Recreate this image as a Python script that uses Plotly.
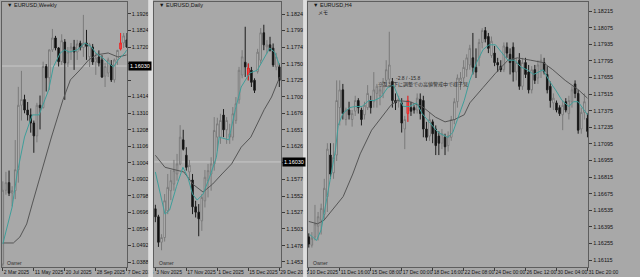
import plotly.graph_objects as go

# ---------------- data ----------------
w_labels_pos = [0, 10, 20, 30, 40]
w_labels = ["2 Mar 2025", "11 May 2025", "20 Jul 2025", "28 Sep 2025", "7 Dec 2025"]
w_open = [1.0375,1.0833,1.0880,1.0815,1.0830,1.0960,1.1360,1.1395,1.1330,1.1300,
          1.1250,1.1170,1.1360,1.1345,1.1600,1.1530,1.1703,1.1777,1.1715,1.1630,
          1.1752,1.1622,1.1690,1.1721,1.1690,1.1745,1.1718,1.1746,1.1660,1.1721,
          1.1628,1.1659,1.1641,1.1540,1.1560,1.1610,1.1517,1.1641,1.1709,1.1746,
          1.1765]
w_high = [1.0888,1.0947,1.0955,1.0858,1.1144,1.1474,1.1573,1.1425,1.1380,1.1340,
          1.1265,1.1375,1.1420,1.1630,1.1615,1.1705,1.1833,1.1790,1.1720,1.1800,
          1.1770,1.1721,1.1746,1.1765,1.1765,1.1760,1.1920,1.1827,1.1746,1.1740,
          1.1684,1.1700,1.1670,1.1622,1.1655,1.1640,1.1650,1.1703,1.1808,1.1808,
          1.1808]
w_low = [1.0360,1.0805,1.0797,1.0733,1.0778,1.0880,1.1265,1.1310,1.1265,1.1190,
         1.1065,1.1130,1.1210,1.1340,1.1445,1.1455,1.1690,1.1700,1.1600,1.1610,
         1.1393,1.1597,1.1641,1.1579,1.1641,1.1700,1.1660,1.1641,1.1597,1.1610,
         1.1548,1.1600,1.1529,1.1473,1.1535,1.1504,1.1500,1.1610,1.1700,1.1715,
         1.1715]
w_close = [1.0833,1.0880,1.0815,1.0830,1.0960,1.1360,1.1395,1.1330,1.1300,1.1250,
           1.1170,1.1360,1.1345,1.1600,1.1530,1.1703,1.1777,1.1715,1.1630,1.1760,
           1.1622,1.1690,1.1721,1.1690,1.1740,1.1718,1.1746,1.1725,1.1735,1.1628,
           1.1653,1.1622,1.1535,1.1600,1.1641,1.1517,1.1641,1.1700,1.1746,1.1790,
           1.1721]
w_fast_idx = [0, 3, 4.6, 7, 9.5, 11.7, 14.8, 16.3, 18.5, 20, 21.5, 24, 26.5, 28.6, 30, 32.3, 34, 35.7, 37.2, 39.4, 40]
w_fast_val = [1.0500, 1.0729, 1.0934, 1.1163, 1.1300, 1.1300, 1.1455, 1.1597, 1.1684, 1.1703, 1.1690, 1.1703,
              1.1746, 1.1721, 1.1684, 1.1653, 1.1622, 1.1597, 1.1641, 1.1684, 1.1703]
w_slow_idx = [0, 3.4, 5.5, 7.7, 9.5, 11.7, 13.8, 15.7, 19.4, 21.8, 24.9, 27.7, 30.2, 34, 37.2, 40]
w_slow_val = [1.0506, 1.0506, 1.0543, 1.0624, 1.0748, 1.0897, 1.1039, 1.1163, 1.1393, 1.1517, 1.1579, 1.1641,
              1.1672, 1.1684, 1.1659, 1.1672]
w_ticks = [1.19260, 1.18240, 1.17200, 1.16180, 1.15160, 1.14140, 1.13100, 1.12080,
           1.11060, 1.10040, 1.09020, 1.07980, 1.06960, 1.05940, 1.04920, 1.03880]
w_mark = [38]

d_labels_pos = [0, 10, 20, 30, 40]
d_labels = ["3 Nov 2025", "17 Nov 2025", "1 Dec 2025", "15 Dec 2025", "29 Dec 2025"]
d_open = [1.1533,1.1521,1.1483,1.1490,1.1530,1.1560,1.1570,1.1585,1.1600,1.1636,
          1.1613,1.1588,1.1576,1.1536,1.1528,1.1515,1.1545,1.1575,1.1585,1.1600,
          1.1640,1.1640,1.1673,1.1651,1.1640,1.1640,1.1665,1.1696,1.1733,1.1752,
          1.1743,1.1740,1.1725,1.1738,1.1755,1.1796,1.1775,1.1778,1.1773,1.1745,
          1.1745]
d_high = [1.1539,1.1524,1.1495,1.1555,1.1585,1.1591,1.1606,1.1615,1.1658,1.1651,
          1.1625,1.1606,1.1585,1.1545,1.1540,1.1555,1.1591,1.1600,1.1610,1.1670,
          1.1669,1.1675,1.1682,1.1670,1.1660,1.1685,1.1700,1.1745,1.1770,1.1805,
          1.1750,1.1745,1.1728,1.1772,1.1803,1.1808,1.1785,1.1790,1.1780,1.1766,
          1.1750]
d_low = [1.1513,1.1476,1.1471,1.1484,1.1525,1.1546,1.1560,1.1575,1.1598,1.1620,
         1.1590,1.1578,1.1525,1.1520,1.1492,1.1500,1.1535,1.1550,1.1560,1.1590,
         1.1620,1.1630,1.1640,1.1630,1.1630,1.1635,1.1660,1.1690,1.1728,1.1730,
         1.1725,1.1715,1.1706,1.1735,1.1750,1.1770,1.1765,1.1768,1.1745,1.1740,
         1.1715]
d_close = [1.1521,1.1483,1.1490,1.1545,1.1565,1.1575,1.1590,1.1600,1.1640,1.1622,
           1.1595,1.1598,1.1536,1.1528,1.1518,1.1550,1.1580,1.1590,1.1600,1.1650,
           1.1660,1.1665,1.1651,1.1665,1.1645,1.1675,1.1690,1.1740,1.1760,1.1745,
           1.1733,1.1722,1.1710,1.1767,1.1796,1.1778,1.1778,1.1770,1.1748,1.1760,
           1.1725]
d_fast_idx = [0, 3.1, 4.6, 6.8, 8.9, 10.5, 12, 13.5, 15.4, 17.5, 19.7, 20.6, 23.7, 25.8, 27.7, 30.5, 32.9, 35.1, 36.9, 38.5, 40]
d_fast_val = [1.1588, 1.1525, 1.1531, 1.1566, 1.1595, 1.1580, 1.1555, 1.1546, 1.1555, 1.1580, 1.1610, 1.1640,
              1.1636, 1.1681, 1.1715, 1.1736, 1.1740, 1.1758, 1.1773, 1.1767, 1.1748]
d_slow_idx = [0, 3.1, 9.2, 12.3, 15.4, 18.5, 21.5, 24.6, 27.7, 30.8, 35.1, 37.5, 39.7, 40]
d_slow_val = [1.1613, 1.1595, 1.1588, 1.1569, 1.1558, 1.1570, 1.1585, 1.1600, 1.1625, 1.1640, 1.1681, 1.1700,
              1.1725, 1.1730]
d_ticks = [1.18240, 1.17995, 1.17745, 1.17500, 1.17250, 1.17005, 1.16760, 1.16510,
           1.16265, 1.16020, 1.15770, 1.15520, 1.15275, 1.15030, 1.14780, 1.14535]
d_mark = [30]

h_labels_pos = [0, 10, 20, 30, 40, 50, 60, 70, 80, 90]
h_labels = ["10 Dec 2025", "11 Dec 16:00", "15 Dec 08:00", "17 Dec 00:00", "18 Dec 16:00",
            "22 Dec 08:00", "24 Dec 00:00", "26 Dec 12:00", "30 Dec 04:00", "31 Dec 20:00"]
h_open = [1.1631,1.1624,1.1631,1.1640,1.1645,1.1650,1.1665,1.1700,1.1685,1.1700,
          1.1740,1.1755,1.1730,1.1738,1.1730,1.1737,1.1746,1.1738,1.1734,1.1740,
          1.1746,1.1745,1.1752,1.1750,1.1752,1.1763,1.1764,1.1762,1.1746,1.1745,
          1.1744,1.1722,1.1735,1.1740,1.1740,1.1738,1.1747,1.1746,1.1722,1.1716,
          1.1728,1.1722,1.1716,1.1710,1.1715,1.1708,1.1715,1.1730,1.1745,1.1762,
          1.1765,1.1772,1.1776,1.1782,1.1774,1.1782,1.1795,1.1805,1.1800,1.1784,
          1.1786,1.1778,1.1775,1.1772,1.1791,1.1785,1.1791,1.1770,1.1780,1.1758,
          1.1778,1.1770,1.1755,1.1772,1.1765,1.1772,1.1778,1.1768,1.1758,1.1744,
          1.1744,1.1740,1.1734,1.1745,1.1735,1.1745,1.1760,1.1752,1.1722,1.1736,
          1.1731]
h_high = [1.1634,1.1635,1.1658,1.1652,1.1659,1.1680,1.1710,1.1710,1.1710,1.1763,
          1.1763,1.1760,1.1740,1.1745,1.1738,1.1750,1.1748,1.1740,1.1745,1.1759,
          1.1750,1.1770,1.1760,1.1758,1.1765,1.1780,1.1804,1.1765,1.1752,1.1750,
          1.1748,1.1733,1.1750,1.1745,1.1742,1.1752,1.1752,1.1750,1.1728,1.1736,
          1.1730,1.1725,1.1720,1.1722,1.1718,1.1720,1.1733,1.1748,1.1768,1.1770,
          1.1780,1.1785,1.1793,1.1803,1.1790,1.1798,1.1807,1.1808,1.1803,1.1800,
          1.1792,1.1782,1.1780,1.1795,1.1795,1.1790,1.1795,1.1782,1.1786,1.1782,
          1.1782,1.1776,1.1775,1.1776,1.1780,1.1785,1.1782,1.1775,1.1762,1.1752,
          1.1746,1.1742,1.1746,1.1748,1.1750,1.1758,1.1763,1.1755,1.1740,1.1752,
          1.1735]
h_low = [1.1622,1.1622,1.1628,1.1628,1.1633,1.1645,1.1652,1.1680,1.1680,1.1695,
         1.1725,1.1730,1.1725,1.1730,1.1724,1.1733,1.1735,1.1725,1.1730,1.1738,
         1.1735,1.1740,1.1740,1.1742,1.1748,1.1758,1.1760,1.1740,1.1738,1.1740,
         1.1719,1.1705,1.1728,1.1733,1.1735,1.1735,1.1730,1.1715,1.1712,1.1712,
         1.1710,1.1700,1.1700,1.1705,1.1700,1.1703,1.1712,1.1726,1.1740,1.1755,
         1.1760,1.1766,1.1772,1.1768,1.1765,1.1775,1.1790,1.1795,1.1786,1.1782,
         1.1775,1.1770,1.1770,1.1770,1.1782,1.1768,1.1762,1.1763,1.1755,1.1755,
         1.1765,1.1752,1.1752,1.1760,1.1760,1.1765,1.1768,1.1752,1.1740,1.1738,
         1.1736,1.1733,1.1721,1.1736,1.1730,1.1740,1.1748,1.1718,1.1718,1.1730,
         1.1715]
h_close = [1.1625,1.1630,1.1642,1.1648,1.1655,1.1672,1.1705,1.1684,1.1698,1.1746,
           1.1755,1.1735,1.1738,1.1734,1.1735,1.1746,1.1740,1.1730,1.1742,1.1752,
           1.1740,1.1755,1.1758,1.1755,1.1762,1.1772,1.1776,1.1746,1.1744,1.1747,
           1.1727,1.1730,1.1746,1.1737,1.1738,1.1748,1.1735,1.1722,1.1715,1.1730,
           1.1718,1.1708,1.1710,1.1718,1.1707,1.1716,1.1730,1.1745,1.1765,1.1765,
           1.1774,1.1782,1.1790,1.1774,1.1770,1.1795,1.1805,1.1798,1.1790,1.1796,
           1.1778,1.1776,1.1772,1.1792,1.1786,1.1778,1.1770,1.1778,1.1758,1.1778,
           1.1768,1.1755,1.1772,1.1763,1.1776,1.1780,1.1770,1.1755,1.1746,1.1748,
           1.1738,1.1735,1.1742,1.1738,1.1746,1.1755,1.1752,1.1721,1.1736,1.1745,
           1.1720]
h_fast_idx = [0.3, 2.5, 4, 5.5, 7, 8.6, 9.5, 11, 13.2, 15, 17.2, 19.4, 21.2, 23.4, 25.5, 27.4, 28.9, 30.5,
              32.6, 34.8, 36.6, 38.8, 41.8, 44.9, 46.5, 48, 50.2, 52, 54.2, 56.3, 58.2, 60.3, 62.5, 64.3,
              66.5, 68.6, 70.5, 72.6, 74.2, 75.7, 77.8, 79.7, 81.8, 84, 85.5, 87, 88.9, 90]
h_fast_val = [1.1633, 1.1628, 1.1637, 1.1659, 1.1681, 1.1704, 1.1725, 1.1735, 1.1740, 1.1741, 1.1741, 1.1746,
              1.1746, 1.1749, 1.1757, 1.1759, 1.1749, 1.1741, 1.1741, 1.1744, 1.1735, 1.1728, 1.1719, 1.1715,
              1.1719, 1.1730, 1.1746, 1.1763, 1.1778, 1.1789, 1.1793, 1.1793, 1.1786, 1.1780, 1.1780, 1.1774,
              1.1772, 1.1768, 1.1770, 1.1772, 1.1762, 1.1755, 1.1746, 1.1741, 1.1745, 1.1745, 1.1738, 1.1734]
h_slow_idx = [0, 2.8, 4.9, 7.1, 8.9, 11.1, 14.2, 16.6, 20.3, 23.4, 26.5, 28.6, 32.6, 36.6, 40.9, 44, 47.1,
              50.2, 52, 56.3, 60.3, 64.3, 67.4, 71.7, 75.7, 78.8, 82.8, 87.1, 90]
h_slow_val = [1.1644, 1.1642, 1.1645, 1.1652, 1.1658, 1.1665, 1.1684, 1.1701, 1.1721, 1.1732, 1.1742, 1.1746,
              1.1745, 1.1741, 1.1732, 1.1728, 1.1730, 1.1734, 1.1744, 1.1757, 1.1769, 1.1780, 1.1782, 1.1780,
              1.1778, 1.1772, 1.1763, 1.1755, 1.1748]
h_ticks = [1.18215, 1.18075, 1.17935, 1.17795, 1.17655, 1.17515, 1.17375, 1.17235,
           1.17095, 1.16955, 1.16815, 1.16675, 1.16535, 1.16395, 1.16255, 1.16115]
h_mark = [32]

ref_level = 1.16030
titles = ["▼ EURUSD,Weekly", "▼ EURUSD,Daily", "▼ EURUSD,H4"]
memo_text = "メモ"
note_line1 = "-2.8 / -15.8"
note_line2 = "※乱高下に調整での高値警戒中で様子見"
note_pos = [(32, 1.17650), (37, 1.17595)]
owner_text = "Owner"

# ---------------- style / layout ----------------
W, H = 640, 277
BG = "#a8a8a8"
FONT = "Liberation Sans, Noto Sans CJK JP, DejaVu Sans"
TXT = "#141414"

panels = [
    dict(o=w_open, h=w_high, l=w_low, c=w_close, fi=w_fast_idx, fv=w_fast_val, si=w_slow_idx, sv=w_slow_val,
         ticks=w_ticks, lpos=w_labels_pos, lab=w_labels, mark=w_mark,
         px=(2, 133), xr=(-0.3, 40.0), yr=(1.0357, 1.2000), ref=True),
    dict(o=d_open, h=d_high, l=d_low, c=d_close, fi=d_fast_idx, fv=d_fast_val, si=d_slow_idx, sv=d_slow_val,
         ticks=d_ticks, lpos=d_labels_pos, lab=d_labels, mark=d_mark,
         px=(162, 295), xr=(-0.3, 40.6), yr=(1.1446, 1.1842), ref=True),
    dict(o=h_open, h=h_high, l=h_low, c=h_close, fi=h_fast_idx, fv=h_fast_val, si=h_slow_idx, sv=h_slow_val,
         ticks=h_ticks, lpos=h_labels_pos, lab=h_labels, mark=h_mark,
         px=(323, 617), xr=(-0.3, 90.2), yr=(1.16056, 1.18291), ref=False),
]

fig = go.Figure()
ydom = [(H - 267) / H, (H - 2) / H]

for n, p in enumerate(panels, start=1):
    xa = "x" if n == 1 else f"x{n}"
    ya = "y" if n == 1 else f"y{n}"
    idx = list(range(len(p["o"])))
    fig.add_trace(go.Candlestick(
        x=idx, open=p["o"], high=p["h"], low=p["l"], close=p["c"], xaxis=xa, yaxis=ya,
        increasing=dict(line=dict(color="#7a7a7a", width=1), fillcolor="#d0d0d0"),
        decreasing=dict(line=dict(color="#1c1c1c", width=1), fillcolor="#0a0a0a"),
        whiskerwidth=0, showlegend=False, hoverinfo="skip"))
    m = p["mark"]
    fig.add_trace(go.Candlestick(
        x=m, open=[p["o"][i] for i in m], high=[p["h"][i] for i in m],
        low=[p["l"][i] for i in m], close=[p["c"][i] for i in m], xaxis=xa, yaxis=ya,
        increasing=dict(line=dict(color="#ff2020", width=1), fillcolor="#c86a6a"),
        decreasing=dict(line=dict(color="#ff2020", width=1), fillcolor="#c86a6a"),
        whiskerwidth=0, showlegend=False, hoverinfo="skip"))
    fig.add_trace(go.Scatter(x=p["si"], y=p["sv"], mode="lines", xaxis=xa, yaxis=ya,
                             line=dict(color="#555555", width=1), showlegend=False, hoverinfo="skip"))
    fig.add_trace(go.Scatter(x=p["fi"], y=p["fv"], mode="lines", xaxis=xa, yaxis=ya,
                             line=dict(color="#3f9e9a", width=1), showlegend=False, hoverinfo="skip"))

    # price labels hidden behind the reference-level box are left blank
    ytext = ["" if (p["ref"] and abs(v - ref_level) < 0.0022 * (p["yr"][1] - p["yr"][0]) / 0.04) else f"{v:.5f}"
             for v in p["ticks"]]

    xkey = "xaxis" if n == 1 else f"xaxis{n}"
    ykey = "yaxis" if n == 1 else f"yaxis{n}"
    fig.update_layout(**{
        xkey: dict(domain=[p["px"][0] / W, p["px"][1] / W], range=list(p["xr"]), anchor=ya,
                   tickmode="array", tickvals=p["lpos"], ticktext=p["lab"], tickangle=0,
                   ticks="outside", ticklen=3, tickcolor="#3a3a3a", tickwidth=1,
                   ticklabelposition="outside right",
                   tickfont=dict(size=5, color=TXT, family=FONT),
                   showline=True, linecolor="#5e5e5e", linewidth=1, mirror=True,
                   showgrid=False, zeroline=False, rangeslider=dict(visible=False), fixedrange=True),
        ykey: dict(domain=ydom, range=list(p["yr"]), anchor=xa, side="right",
                   tickmode="array", tickvals=p["ticks"], ticktext=ytext,
                   ticks="outside", ticklen=3, tickcolor="#3a3a3a", tickwidth=1,
                   tickfont=dict(size=5.5, color=TXT, family=FONT),
                   showline=True, linecolor="#5e5e5e", linewidth=1, mirror=True,
                   showgrid=False, zeroline=False, fixedrange=True),
    })

    if p["ref"]:
        fig.add_shape(type="line", xref=f"{xa} domain", x0=0, x1=1, yref=ya, y0=ref_level, y1=ref_level,
                      line=dict(color="#c8c8c8", width=1), layer="below")
        fig.add_annotation(xref=f"{xa} domain", x=1.0, xanchor="left", yref=ya, y=ref_level,
                           text=f"{ref_level:.5f}", showarrow=False, bgcolor="#000000",
                           font=dict(size=5.5, color="#ffffff", family=FONT), borderpad=1, xshift=1)

    fig.add_annotation(xref="paper", yref="paper", x=(p["px"][0] + 3) / W, y=1 - 5 / H,
                       xanchor="left", yanchor="middle", text=titles[n - 1], showarrow=False,
                       font=dict(size=5.5, color=TXT, family=FONT))
    fig.add_annotation(xref="paper", yref="paper", x=(p["px"][0] + 3) / W, y=1 - 263 / H,
                       xanchor="left", yanchor="middle", text=owner_text, showarrow=False,
                       font=dict(size=5, color="#303030", family=FONT))

# extra texts on H4 panel
fig.add_annotation(xref="paper", yref="paper", x=(323 + 9) / W, y=1 - 12 / H, xanchor="left",
                   yanchor="middle", text=memo_text, showarrow=False,
                   font=dict(size=5, color=TXT, family=FONT))
fig.add_annotation(xref="x3", yref="y3", x=note_pos[0][0], y=note_pos[0][1], text=note_line1,
                   showarrow=False, font=dict(size=5, color="#2a2a2a", family=FONT))
fig.add_annotation(xref="x3", yref="y3", x=note_pos[1][0], y=note_pos[1][1], text=note_line2,
                   showarrow=False, font=dict(size=5, color="#2a2a2a", family=FONT))

# window separators
for x0, x1 in [(155.5, 160.5), (318, 322)]:
    fig.add_shape(type="rect", xref="paper", yref="paper", x0=x0 / W, x1=x1 / W, y0=0, y1=1,
                  fillcolor="#dedede", line=dict(width=0), layer="above")

fig.update_layout(width=W, height=H, margin=dict(l=0, r=0, t=0, b=0),
                  paper_bgcolor=BG, plot_bgcolor=BG, showlegend=False,
                  font=dict(family=FONT, color=TXT))

fig.write_html("out.html", config={"displayModeBar": False})
